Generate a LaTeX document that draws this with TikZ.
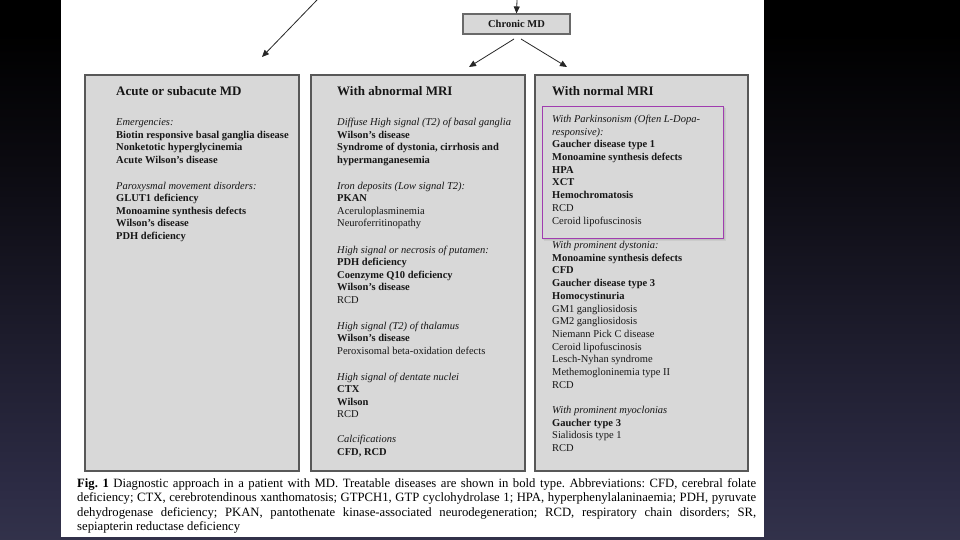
\documentclass[tikz,border=0pt]{standalone}
\usepackage{fontspec}
\setmainfont{Liberation Serif}
\usetikzlibrary{arrows.meta}
\frenchspacing
\definecolor{boxfill}{RGB}{216,216,216}
\definecolor{boxdraw}{RGB}{88,88,88}
\definecolor{purp}{RGB}{160,60,175}
\definecolor{txt}{RGB}{22,22,22}
\definecolor{bgA}{RGB}{80,83,107}
\definecolor{bgB}{RGB}{44,43,68}
\definecolor{bgC}{RGB}{11,10,16}
\pgfdeclareverticalshading{bgshade}{100bp}{color(0bp)=(bgA); color(30bp)=(bgB); color(60bp)=(bgC); color(72bp)=(black); color(100bp)=(black)}
\newcommand\grp[1]{\begin{tabular}[t]{@{}l@{}}#1\end{tabular}}
\tikzset{
  panel/.style={draw=boxdraw, line width=1.4pt, fill=boxfill, inner sep=0, minimum width=214pt, minimum height=396pt},
  ttl/.style={anchor=base west, inner sep=0, text=txt, font=\fontsize{13}{15}\selectfont\bfseries},
  grptext/.style={anchor=base west, inner sep=0, text=txt, font=\fontsize{10.5}{12.5}\selectfont},
  grpwide/.style={grptext, font=\fontsize{10.5}{12.7}\selectfont},
  arr/.style={draw=black!85, line width=0.8pt, -{Triangle[length=7pt,width=6pt]}}
}
\begin{document}
\begin{tikzpicture}[x=1pt,y=-1pt]
\useasboundingbox (0,0) rectangle (960,540);
\shade[shading=bgshade] (0,0) rectangle (960,540);
\fill[white] (61,0) rectangle (764,537);

% panels
\node[panel] (b1) at (192,273) {};
\node[panel] (b2) at (418,273) {};
\node[panel, minimum width=213pt] (b3) at (641.5,273) {};
\fill[black, opacity=0.06] (544,108) rectangle (726,241);
\fill[black, opacity=0.06] (543,107) rectangle (725,240);
\node[draw=purp, fill=boxfill, line width=0.9pt, inner sep=0, minimum width=181pt, minimum height=132pt] (pk) at (632.5,172) {};

% Chronic MD
\node[draw=boxdraw!90, line width=1.1pt, fill=boxfill, inner sep=0, minimum width=107pt, minimum height=20pt, text=txt, font=\fontsize{10.5}{12}\selectfont\bfseries] (cm) at (516.5,24) {Chronic MD};

% arrows
\coordinate (s1) at (317,0);
\coordinate (e1) at (262,57);
\coordinate (s2) at (517,0);
\coordinate (s3) at (514,39);
\coordinate (e3) at (469,67);
\coordinate (s4) at (521,39);
\coordinate (e4) at (567,67);
\draw[arr] (s1) -- (e1);
\draw[arr] (s2) -- (cm.north);
\draw[arr] (s3) -- (e3);
\draw[arr] (s4) -- (e4);

% box 1
\node[ttl] (t1) at (116,96) {Acute or subacute MD};
\node[grptext] (g1a) at (116,126) {\grp{\textit{Emergencies:}\\ \textbf{Biotin responsive basal ganglia disease}\\ \textbf{Nonketotic hyperglycinemia}\\ \textbf{Acute Wilson's disease}}};
\node[grptext] (g1b) at (116,189.5) {\grp{\textit{Paroxysmal movement disorders:}\\ \textbf{GLUT1 deficiency}\\ \textbf{Monoamine synthesis defects}\\ \textbf{Wilson's disease}\\ \textbf{PDH deficiency}}};

% box 2
\node[ttl] (t2) at (337,96) {With abnormal MRI};
\node[grptext] (g2a) at (337,126) {\grp{\textit{Diffuse High signal (T2) of basal ganglia}\\ \textbf{Wilson's disease}\\ \textbf{Syndrome of dystonia, cirrhosis and}\\ \textbf{hypermanganesemia}}};
\node[grptext] (g2b) at (337,189.5) {\grp{\textit{Iron deposits (Low signal T2):}\\ \textbf{PKAN}\\ Aceruloplasminemia\\ Neuroferritinopathy}};
\node[grptext] (g2c) at (337,253) {\grp{\textit{High signal or necrosis of putamen:}\\ \textbf{PDH deficiency}\\ \textbf{Coenzyme Q10 deficiency}\\ \textbf{Wilson's disease}\\ RCD}};
\node[grptext] (g2d) at (337,329) {\grp{\textit{High signal (T2) of thalamus}\\ \textbf{Wilson's disease}\\ Peroxisomal beta-oxidation defects}};
\node[grptext] (g2e) at (337,380) {\grp{\textit{High signal of dentate nuclei}\\ \textbf{CTX}\\ \textbf{Wilson}\\ RCD}};
\node[grptext] (g2f) at (337,442.5) {\grp{\textit{Calcifications}\\ \textbf{CFD, RCD}}};

% box 3
\node[ttl] (t3) at (552,96) {With normal MRI};
\node[grpwide] (g3a) at (552,122.5) {\grp{\textit{With Parkinsonism (Often L-Dopa-}\\ \textit{responsive):}\\ \textbf{Gaucher disease type 1}\\ \textbf{Monoamine synthesis defects}\\ \textbf{HPA}\\ \textbf{XCT}\\ \textbf{Hemochromatosis}\\ RCD\\ Ceroid lipofuscinosis}};
\node[grpwide] (g3b) at (552,248.5) {\grp{\textit{With prominent dystonia:}\\ \textbf{Monoamine synthesis defects}\\ \textbf{CFD}\\ \textbf{Gaucher disease type 3}\\ \textbf{Homocystinuria}\\ GM1 gangliosidosis\\ GM2 gangliosidosis\\ Niemann Pick C disease\\ Ceroid lipofuscinosis\\ Lesch-Nyhan syndrome\\ Methemogloninemia type II\\ RCD}};
\node[grpwide] (g3c) at (552,413.5) {\grp{\textit{With prominent myoclonias}\\ \textbf{Gaucher type 3}\\ Sialidosis type 1\\ RCD}};

% caption
\node[anchor=base west, inner sep=0, text=black, font=\fontsize{12.7}{14.5}\selectfont] (cap) at (77,487) {\begin{tabular}[t]{@{}l@{}}%
\makebox[679pt][s]{\textbf{Fig.~1} Diagnostic approach in a patient with MD. Treatable diseases are shown in bold type. Abbreviations: CFD, cerebral folate}\\
\makebox[679pt][s]{deficiency; CTX, cerebrotendinous xanthomatosis; GTPCH1, GTP cyclohydrolase 1; HPA, hyperphenylalaninaemia; PDH, pyruvate}\\
\makebox[679pt][s]{dehydrogenase deficiency; PKAN, pantothenate kinase-associated neurodegeneration; RCD, respiratory chain disorders; SR,}\\
sepiapterin reductase deficiency\end{tabular}};
\end{tikzpicture}
\end{document}
